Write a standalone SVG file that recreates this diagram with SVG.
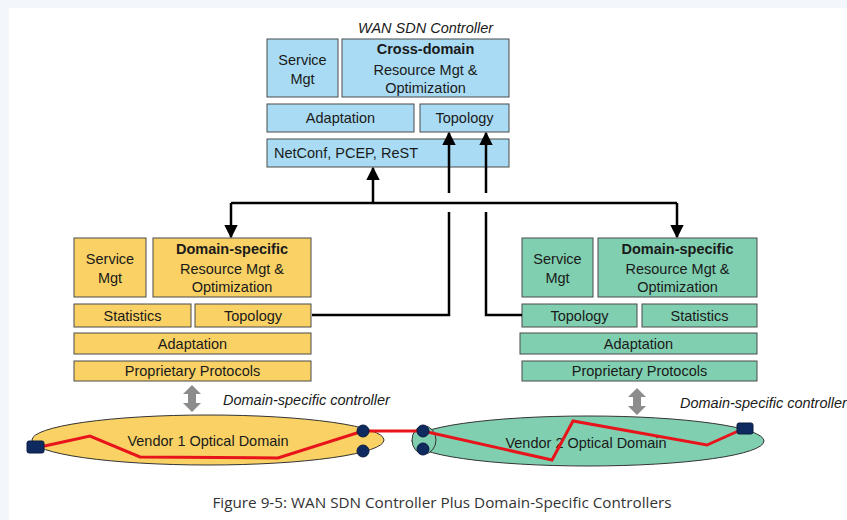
<svg xmlns="http://www.w3.org/2000/svg" width="847" height="520" viewBox="0 0 847 520">
<defs>
<style>
.t{font-family:"Liberation Sans",Arial,sans-serif;font-size:14.5px;fill:#1a1a1a;text-anchor:middle}
.b{font-weight:bold}
.i{font-style:italic;text-anchor:start}
.bl{fill:#a9dcf4;stroke:#4a4a4a;stroke-width:1}
.ye{fill:#f9d164;stroke:#4a4a4a;stroke-width:1}
.gr{fill:#80cfb0;stroke:#4a4a4a;stroke-width:1}
.ln{fill:none;stroke:#000;stroke-width:2.5}
.red{fill:none;stroke:#e8141c;stroke-width:3;stroke-linejoin:miter}
.dev{fill:#0f2a5e;stroke:#0a1c40;stroke-width:1}
</style>
<marker id="ah" viewBox="0 0 10 10" refX="9" refY="5" markerWidth="5.5" markerHeight="5.5" orient="auto">
<path d="M0,0 L10,5 L0,10 Z" fill="#000"/>
</marker>
</defs>
<rect x="0" y="0" width="847" height="520" fill="#ffffff"/>
<rect x="0" y="0" width="847" height="8" fill="#f3f6fa"/>
<rect x="0" y="0" width="9" height="520" fill="#f3f6fa"/>

<g id="wan-controller">
<text class="t i" x="358" y="33">WAN SDN Controller</text>
<g id="wan-service"><rect class="bl" x="267" y="39" width="71" height="58"/><text class="t" x="302.5" y="65">Service</text><text class="t" x="302.5" y="84">Mgt</text></g>
<g id="wan-cross"><rect class="bl" x="342" y="39" width="167" height="58"/><text class="t b" x="425.5" y="54">Cross-domain</text><text class="t" x="425.5" y="75">Resource Mgt &amp;</text><text class="t" x="425.5" y="93">Optimization</text></g>
<g id="wan-adaptation"><rect class="bl" x="267" y="104" width="147" height="28"/><text class="t" x="340.5" y="123">Adaptation</text></g>
<g id="wan-topology"><rect class="bl" x="420" y="104" width="89" height="28"/><text class="t" x="464.5" y="123">Topology</text></g>
<g id="wan-netconf"><rect class="bl" x="267" y="139" width="242" height="28"/><text class="t" x="346" y="158">NetConf, PCEP, ReST</text></g>
</g>

<g id="dom1-controller">
<g id="d1-service"><rect class="ye" x="74" y="238" width="72" height="59"/><text class="t" x="110" y="264">Service</text><text class="t" x="110" y="283">Mgt</text></g>
<g id="d1-resource"><rect class="ye" x="153" y="238" width="158" height="59"/><text class="t b" x="232" y="254">Domain-specific</text><text class="t" x="232" y="274">Resource Mgt &amp;</text><text class="t" x="232" y="292">Optimization</text></g>
<g id="d1-statistics"><rect class="ye" x="74" y="304" width="117" height="23"/><text class="t" x="132.5" y="321">Statistics</text></g>
<g id="d1-topology"><rect class="ye" x="195" y="304" width="116" height="23"/><text class="t" x="253" y="321">Topology</text></g>
<g id="d1-adaptation"><rect class="ye" x="74" y="333" width="237" height="21"/><text class="t" x="192.5" y="349">Adaptation</text></g>
<g id="d1-proprietary"><rect class="ye" x="74" y="361" width="237" height="20"/><text class="t" x="192.5" y="376">Proprietary Protocols</text></g>
</g>

<g id="dom2-controller">
<g id="d2-service"><rect class="gr" x="522" y="238" width="71" height="59"/><text class="t" x="557.5" y="264">Service</text><text class="t" x="557.5" y="283">Mgt</text></g>
<g id="d2-resource"><rect class="gr" x="598" y="238" width="159" height="59"/><text class="t b" x="677.5" y="254">Domain-specific</text><text class="t" x="677.5" y="274">Resource Mgt &amp;</text><text class="t" x="677.5" y="292">Optimization</text></g>
<g id="d2-topology"><rect class="gr" x="522" y="304" width="115" height="23"/><text class="t" x="579.5" y="321">Topology</text></g>
<g id="d2-statistics"><rect class="gr" x="642" y="304" width="115" height="23"/><text class="t" x="699.5" y="321">Statistics</text></g>
<g id="d2-adaptation"><rect class="gr" x="520" y="333" width="237" height="21"/><text class="t" x="638.5" y="349">Adaptation</text></g>
<g id="d2-proprietary"><rect class="gr" x="522" y="361" width="235" height="20"/><text class="t" x="639.5" y="376">Proprietary Protocols</text></g>
</g>

<g id="connectors">
<path class="ln" d="M312,315 H449 V133" marker-end="url(#ah)"/>
<path class="ln" d="M522,315 H486 V133" marker-end="url(#ah)"/>
<rect x="440" y="193" width="55" height="19" fill="#ffffff"/>
<path class="ln" d="M231,203 H677"/>
<path class="ln" d="M373,203 V168" marker-end="url(#ah)"/>
<path class="ln" d="M231,203 V237" marker-end="url(#ah)"/>
<path class="ln" d="M677,203 V237" marker-end="url(#ah)"/>
<path id="g1" fill="#8c8c8c" d="M192,385 L201,394 L196,394 L196,403 L201,403 L192,412 L183,403 L188,403 L188,394 L183,394 Z"/>
<path id="g2" fill="#8c8c8c" d="M637,388 L646,397 L641,397 L641,406 L646,406 L637,415 L628,406 L633,406 L633,397 L628,397 Z"/>
</g>

<text class="t i" x="223" y="405">Domain-specific controller</text>
<text class="t i" x="680" y="408">Domain-specific controller</text>

<g id="vendor1">
<ellipse cx="208" cy="440" rx="176" ry="25" fill="#f9d164" stroke="#333" stroke-width="1"/>
<text class="t" x="208" y="446">Vendor 1 Optical Domain</text>
</g>
<g id="vendor2">
<ellipse cx="588" cy="441" rx="176" ry="25" fill="#80cfb0" stroke="#333" stroke-width="1"/>
<ellipse cx="424" cy="440" rx="12" ry="14" fill="#80cfb0" stroke="#333" stroke-width="1"/>
<text class="t" x="586" y="448">Vendor 2 Optical Domain</text>
</g>

<g id="path">
<path class="red" d="M40,447 L90,436 L140,457 L278,458 L363,431 L423,431 L552,460 L573,421 L707,445 L745,428"/>
<rect class="dev" x="27" y="441" width="17" height="12" rx="2"/>
<rect class="dev" x="737" y="423" width="16" height="11" rx="2"/>
<circle class="dev" cx="363" cy="431" r="6"/>
<circle class="dev" cx="363" cy="451" r="6"/>
<circle class="dev" cx="423" cy="431" r="6"/>
<circle class="dev" cx="423" cy="449" r="6"/>
</g>

<text x="442" y="508" style="font-family:'Open Sans','Liberation Sans',sans-serif;font-size:14px;fill:#333;text-anchor:middle" textLength="459" lengthAdjust="spacingAndGlyphs">Figure 9-5: WAN SDN Controller Plus Domain-Specific Controllers</text>
</svg>
